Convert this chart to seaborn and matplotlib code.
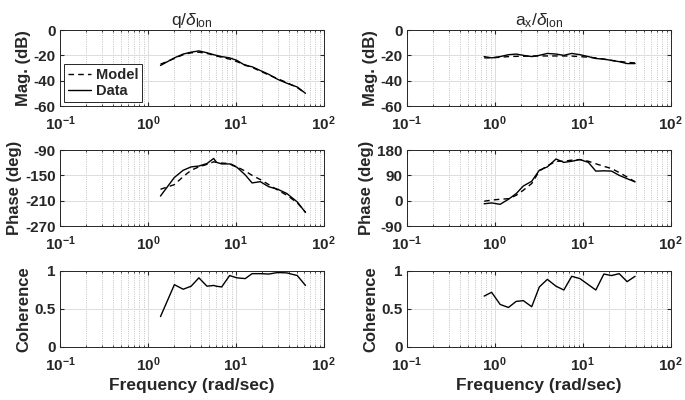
import matplotlib
matplotlib.use("Agg")
import matplotlib.pyplot as plt
import seaborn as sns
import pandas as pd
from matplotlib.ticker import LogLocator, NullFormatter, FixedLocator

sns.set_style("ticks")
plt.rcParams["font.family"] = ["Liberation Sans", "DejaVu Sans"]
plt.rcParams["mathtext.fontset"] = "custom"
plt.rcParams["mathtext.rm"] = "Liberation Sans"
plt.rcParams["mathtext.it"] = "Liberation Sans:italic"
plt.rcParams["mathtext.bf"] = "Liberation Sans:bold"

# q / delta_lon
freq_q = [1.39, 2.0, 2.52, 3.1, 3.8, 4.7, 5.6, 6.0, 6.9, 8.5, 10.3, 12.8, 15.3,
          19.0, 23.7, 30.0, 38.0, 50.0, 62.0]
mag_q_data = [-28, -22, -19, -17.5, -16.5, -18, -19.5, -20, -21, -22, -24, -28,
              -29, -32, -35, -39, -42, -45, -50]
mag_q_model = [-27, -22.5, -19.5, -18, -17.5, -18.5, -19.8, -20.5, -21.5, -23,
               -25, -27.5, -29.5, -32.5, -35.5, -38.5, -41.5, -45.5, -50]
ph_q_data = [-199, -155, -138, -130, -128, -122, -110, -119, -123, -123, -131,
             -149, -168, -165, -177, -183, -193, -213, -238]
ph_q_model = [-183, -172, -153, -138, -130, -124, -118, -119, -121, -122, -130,
              -140, -150, -160, -172, -185, -197, -215, -237]
coh_q = [0.40, 0.82, 0.76, 0.80, 0.91, 0.80, 0.81, 0.80, 0.79, 0.94, 0.91, 0.90,
         0.965, 0.965, 0.96, 0.98, 0.975, 0.94, 0.81]

# a_x / delta_lon
freq_a = [0.757, 0.92, 1.15, 1.43, 1.75, 2.11, 2.63, 3.21, 3.96, 4.97, 6.1, 7.5,
          9.3, 11.6, 14.1, 17.4, 21.3, 26.0, 32.0, 39.4]
mag_a_data = [-21, -22, -21, -19.5, -19, -20, -21, -20, -18.5, -19, -20, -18.5,
              -19.5, -21, -22.5, -23, -24, -25, -26.5, -26.5]
mag_a_model = [-22, -22, -21.5, -21, -20.8, -20.7, -20.6, -20.5, -20.5, -20.5,
               -20.5, -20.6, -21, -21.5, -22, -23, -24, -24.8, -25.5, -26]
ph_a_data = [-11, -8, -13, 5, 25, 52, 69, 108, 120, 148, 136, 140, 146, 136, 105,
             106, 105, 90, 78, 67]
ph_a_model = [-2, 2, 5, 7, 19, 37, 61, 105, 124, 140, 140, 144, 146, 140, 131, 122,
              114, 100, 84, 67]
coh_a = [0.67, 0.72, 0.56, 0.52, 0.60, 0.61, 0.53, 0.79, 0.89, 0.80, 0.75, 0.93,
         0.90, 0.82, 0.75, 0.96, 0.94, 0.965, 0.86, 0.93]

titles = [r"q/$\mathit{\delta}_{\rm lon}$", r"a$_{\rm x}$/$\mathit{\delta}_{\rm lon}$"]
xtick_labels = [r"$\mathbf{10^{-1}}$", r"$\mathbf{10^{0}}$", r"$\mathbf{10^{1}}$", r"$\mathbf{10^{2}}$"]

fig = plt.figure(figsize=(6.85, 4.0), dpi=100)
lefts = [0.0876, 0.594]
width = 0.385
bottoms = [0.735, 0.435, 0.1325]
height = 0.19


def style_axis(ax, yticks, ylim, ylabel, xlabel=None):
    ax.set_xscale("log")
    ax.set_xlim(0.1, 100)
    ax.set_ylim(*ylim)
    ax.xaxis.set_major_locator(FixedLocator([0.1, 1, 10, 100]))
    ax.xaxis.set_minor_locator(LogLocator(base=10, subs=range(2, 10), numticks=20))
    ax.xaxis.set_minor_formatter(NullFormatter())
    ax.set_xticklabels(xtick_labels)
    ax.set_yticks(yticks)
    ax.set_yticklabels([("%g" % t) for t in yticks], fontweight="bold")
    ax.grid(which="major", axis="both", color="#dcdcdc", linewidth=0.7, linestyle="-")
    ax.grid(which="minor", axis="x", color="#b0b0b0", linewidth=0.6, linestyle=":")
    ax.tick_params(which="both", direction="in", labelsize=11, top=True, right=True,
                   length=3, color="#262626")
    ax.tick_params(axis="x", which="major", pad=6)
    ax.tick_params(axis="y", which="major", pad=3)
    ax.tick_params(which="minor", length=1.5)
    for s in ax.spines.values():
        s.set_color("#262626")
        s.set_linewidth(0.7)
    ax.set_ylabel(ylabel, fontsize=12, fontweight="bold", labelpad=2)
    if xlabel:
        ax.set_xlabel(xlabel, fontsize=12.5, fontweight="bold", labelpad=3)
    else:
        ax.set_xlabel("")
    ax.set_axisbelow(True)


columns = [
    (freq_q, mag_q_data, mag_q_model, ph_q_data, ph_q_model, coh_q,
     [-90, -150, -210, -270], (-270, -90)),
    (freq_a, mag_a_data, mag_a_model, ph_a_data, ph_a_model, coh_a,
     [-90, 0, 90, 180], (-90, 180)),
]

for c, (f, md, mm, pd_, pm, coh, ph_ticks, ph_lim) in enumerate(columns):
    df = pd.DataFrame({"freq": f, "mag_d": md, "mag_m": mm, "ph_d": pd_,
                       "ph_m": pm, "coh": coh})

    ax1 = fig.add_axes([lefts[c], bottoms[0], width, height])
    sns.lineplot(data=df, x="freq", y="mag_m", ax=ax1, color="black", lw=1,
                 linestyle=(0, (4, 3)), label="Model", legend=False)
    sns.lineplot(data=df, x="freq", y="mag_d", ax=ax1, color="black", lw=1,
                 label="Data", legend=False)
    style_axis(ax1, [-60, -40, -20, 0], (-60, 0), "Mag. (dB)")
    ax1.set_title(titles[c], fontsize=12.5, pad=3)
    if c == 0:
        leg = ax1.legend(loc="lower left", prop={"weight": "bold", "size": 10.5},
                         handlelength=1.6, handletextpad=0.3, borderpad=0.25,
                         labelspacing=0.15, borderaxespad=0.3, fancybox=False,
                         framealpha=1)
        leg.get_frame().set_edgecolor("#262626")
        leg.get_frame().set_linewidth(0.7)

    ax2 = fig.add_axes([lefts[c], bottoms[1], width, height])
    sns.lineplot(data=df, x="freq", y="ph_m", ax=ax2, color="black", lw=1,
                 linestyle=(0, (4, 3)))
    sns.lineplot(data=df, x="freq", y="ph_d", ax=ax2, color="black", lw=1)
    style_axis(ax2, ph_ticks, ph_lim, "Phase (deg)")

    ax3 = fig.add_axes([lefts[c], bottoms[2], width, height])
    sns.lineplot(data=df, x="freq", y="coh", ax=ax3, color="black", lw=1)
    style_axis(ax3, [0, 0.5, 1], (0, 1), "Coherence", "Frequency (rad/sec)")

fig.savefig("out.png", dpi=100)
